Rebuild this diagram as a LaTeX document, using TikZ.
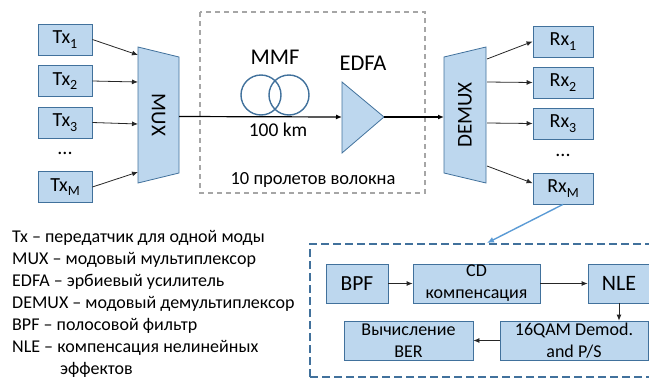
\documentclass[tikz,border=0pt]{standalone}
\usepackage{fontspec}
\setmainfont{Carlito}
\usetikzlibrary{arrows.meta,calc}
\definecolor{boxfill}{HTML}{BDD7EE}
\definecolor{boxline}{HTML}{41719C}
\definecolor{spanline}{HTML}{A6A6A6}
\definecolor{linkblue}{HTML}{5B9BD5}
\definecolor{arrowgray}{HTML}{262626}
% lowered index for Tx/Rx labels
\newcommand{\chidx}[1]{\raisebox{-0.5ex}{\fontsize{14}{14}\selectfont #1}}
\newcommand{\fs}[1]{\fontsize{#1}{#1}\selectfont}

\begin{document}
\begin{tikzpicture}[x=1pt,y=-1pt,
  blk/.style={draw=boxline, fill=boxfill, line width=0.8pt},
  chbox/.style={blk, minimum width=54pt, minimum height=31pt, inner sep=0pt, font=\fs{20}},
  rxbox/.style={chbox, minimum width=60pt},
  dspbox/.style={blk, minimum height=39pt, inner sep=0pt},
  twoline/.style={align=center, font=\fontsize{18}{22}\selectfont},
  arr/.style={draw=arrowgray, line width=0.8pt, -{Latex[length=6pt,width=5pt]}},
  mainarr/.style={draw=black, line width=1.2pt, -{Latex[length=6pt,width=5pt]}},
  lbl/.style={inner sep=0pt},
]
\useasboundingbox (0,0) rectangle (649,381);

% ---------- transmitters ----------
\node[chbox] (tx1) at (65,39.5) {Tx\chidx{1}};
\node[chbox] (tx2) at (65,81) {Tx\chidx{2}};
\node[chbox] (tx3) at (65,122.5) {Tx\chidx{3}};
\node[lbl, font=\fs{20}] (txdots) at (65,153) {...};
\node[chbox] (txm) at (65,187) {Tx\chidx{M}};

% ---------- multiplexer ----------
\draw[blk] (138,47) -- (179,57) -- (179,173) -- (138,183) -- cycle;
\node[lbl, rotate=-90, font=\fs{21}] (mux) at (158.5,115) {MUX};
\coordinate (mux-in1) at (138,55);
\coordinate (mux-in2) at (138,82);
\coordinate (mux-in3) at (138,124);
\coordinate (mux-inm) at (138,172);
\coordinate (mux-out) at (179,116.5);

\draw[arr] (tx1.east) -- (mux-in1);
\draw[arr] (tx2.east) -- (mux-in2);
\draw[arr] (tx3.east) -- (mux-in3);
\draw[arr] (txm.east) -- (mux-inm);

% ---------- fibre span ----------
\draw[spanline, line width=1.2pt, dash pattern=on 5pt off 4pt] (200,12) rectangle (425,193);
\draw[boxline, line width=1.4pt] (261,95) circle[radius=20pt];
\draw[boxline, line width=1.4pt] (289,95) circle[radius=20pt];
\node[lbl, font=\fs{22.5}] (mmf) at (275,57) {MMF};
\node[lbl, font=\fs{19.5}] (span) at (278,130) {100 km};
\node[lbl, font=\fs{18.5}] (spans) at (313,180) {10 пролетов волокна};

\draw[blk] (342,82) -- (384,117) -- (342,153) -- cycle;
\coordinate (edfa-in) at (342,117);
\coordinate (edfa-out) at (384,117);
\node[lbl, font=\fs{22.5}] (edfa) at (363,63) {EDFA};

% ---------- demultiplexer ----------
\draw[blk] (444,57) -- (486,47) -- (486,183) -- (444,173) -- cycle;
\node[lbl, rotate=90, font=\fs{21}] (demux) at (465,115) {DEMUX};
\coordinate (demux-in) at (444,117);
\coordinate (demux-o1) at (487,59);
\coordinate (demux-o2) at (487,82);
\coordinate (demux-o3) at (487,123);
\coordinate (demux-om) at (487,166);

\draw[mainarr] (mux-out) -- (edfa-in);
\draw[mainarr] (edfa-out) -- (demux-in);

% ---------- receivers ----------
\node[rxbox] (rx1) at (563,41.5) {Rx\chidx{1}};
\node[rxbox] (rx2) at (563,82.5) {Rx\chidx{2}};
\node[rxbox] (rx3) at (563,123.5) {Rx\chidx{3}};
\node[lbl, font=\fs{20}] (rxdots) at (563,155) {...};
\node[rxbox] (rxm) at (563,188.5) {Rx\chidx{M}};

\draw[arr] (demux-o1) -- (rx1.west);
\draw[arr] (demux-o2) -- (rx2.west);
\draw[arr] (demux-o3) -- (rx3.west);
\draw[arr] (demux-om) -- (rxm.170);

% ---------- receiver DSP chain ----------
\draw[boxline, line width=1.5pt, dash pattern=on 8pt off 4pt] (310,377) -- (310,244) -- (660,244);
\draw[boxline, line width=1.5pt, dash pattern=on 8pt off 4pt] (310,377) -- (660,377);
\coordinate (dsp-top) at (487,243);
\draw[linkblue, line width=1.4pt, -{Latex[length=7pt,width=6pt]}] (rxm.south) -- (dsp-top);

\node[dspbox, minimum width=62pt, font=\fs{21.5}] (bpf) at (357,283.5) {BPF};
\node[dspbox, minimum width=127pt, twoline] (cd) at (476.5,283.5) {CD\\компенсация};
\node[dspbox, minimum width=62pt, font=\fs{22}] (nle) at (619,283.5) {NLE};
\node[dspbox, minimum width=148pt, twoline] (qam) at (574,340.5) {16QAM Demod.\\and P/S};
\node[dspbox, minimum width=129pt, twoline] (ber) at (408.5,340.5) {Вычисление\\BER};

\draw[arr] (bpf.east) -- (cd.west);
\draw[arr] (cd.east) -- (nle.west);
\draw[arr] (nle.south) -- (nle.south |- qam.north);
\draw[arr] (qam.west) -- (ber.east);

% ---------- legend ----------
\node[lbl, anchor=north west, align=left, font=\fontsize{18}{22}\selectfont] (legend) at (12,230.5) {%
Tx – передатчик для одной моды\\
MUX – модовый мультиплексор\\
EDFA – эрбиевый усилитель\\
DEMUX – модовый демультиплексор\\
BPF – полосовой фильтр\\
NLE – компенсация нелинейных\\
\hspace*{48pt}эффектов};
\end{tikzpicture}
\end{document}
